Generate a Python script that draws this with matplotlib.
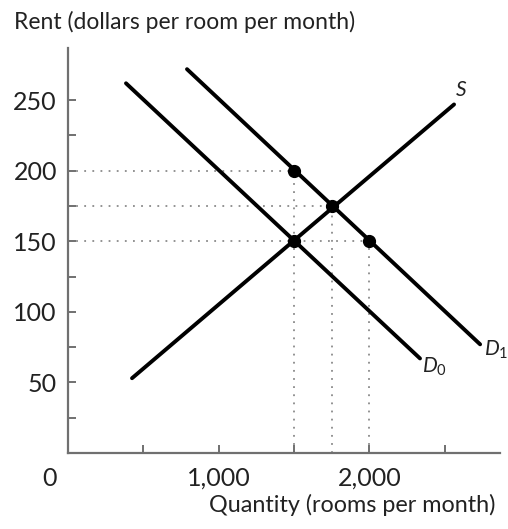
import matplotlib
matplotlib.use("Agg")
import matplotlib.pyplot as plt

plt.rcParams["font.family"] = ["Lato", "DejaVu Sans"]
plt.rcParams["mathtext.fontset"] = "custom"
plt.rcParams["mathtext.it"] = "Lato:italic"
plt.rcParams["mathtext.rm"] = "Lato"

# curves (quantity, rent)
s_q = [425, 2563]
s_p = [53, 247]
d0_q = [385, 2337]
d0_p = [262, 67]
d1_q = [790, 2736]
d1_p = [272, 77]

# marked points
pt_q = [1500, 1750, 2000, 1500]
pt_p = [200, 175, 150, 150]

# dotted guide lines: (quantity, rent) of each point they reach
guide_q = [1500, 1750, 2000]
guide_p = [200, 175, 150]

y_ticks = [25, 50, 75, 100, 125, 150, 175, 200, 225, 250]
y_labels = ["", "50", "", "100", "", "150", "", "200", "", "250"]
x_ticks = [500, 1000, 1500, 2000, 2500]
x_labels = ["", "1,000", "", "2,000", ""]

txt = "#222222"
axc = "#707070"
guide_c = "#8a8a8a"

fig = plt.figure(figsize=(5.08, 5.29), dpi=100)
ax = fig.add_axes([68 / 508, 76 / 529, 432 / 508, 405 / 529])

for q, p in zip(guide_q, guide_p):
    ax.plot([0, q], [p, p], color=guide_c, lw=1.3, ls=(0, (1, 3.5)), zorder=1)
    ax.plot([q, q], [0, p], color=guide_c, lw=1.3, ls=(0, (1, 3.5)), zorder=1)

ax.plot(s_q, s_p, color="black", lw=2.8, solid_capstyle="round", zorder=2)
ax.plot(d0_q, d0_p, color="black", lw=2.8, solid_capstyle="round", zorder=2)
ax.plot(d1_q, d1_p, color="black", lw=2.8, solid_capstyle="round", zorder=2)
ax.plot(pt_q, pt_p, "o", color="black", ms=8.5, zorder=3)

ax.text(2570, 257, "$S$", fontsize=15, color=txt, ha="left", va="center")
ax.text(2350, 61, "$D_0$", fontsize=15, color=txt, ha="left", va="center")
ax.text(2762, 73, "$D_1$", fontsize=15, color=txt, ha="left", va="center",
        clip_on=False)

ax.set_xlim(0, 2868)
ax.set_ylim(0, 287)
ax.set_yticks(y_ticks)
ax.set_yticklabels(y_labels)
ax.set_xticks(x_ticks)
ax.set_xticklabels(x_labels)

for side in ["top", "right"]:
    ax.spines[side].set_visible(False)
for side in ["left", "bottom"]:
    ax.spines[side].set_color(axc)
    ax.spines[side].set_linewidth(1.6)
ax.tick_params(direction="in", length=6, width=1.4, color=axc,
               labelsize=18, labelcolor=txt)
ax.tick_params(axis="y", pad=8)
ax.tick_params(axis="x", pad=10)

ax.annotate("0", (0, 0), xytext=(-13, -18), textcoords="offset points",
            fontsize=18, color=txt, ha="center", va="center")

fig.text(14 / 508, 1 - 22 / 529, "Rent (dollars per room per month)",
         fontsize=16.5, color=txt, ha="left", va="center")
fig.text(495 / 508, 1 - 505 / 529, "Quantity (rooms per month)",
         fontsize=16.8, color=txt, ha="right", va="center")

fig.savefig("out.png", dpi=100)
